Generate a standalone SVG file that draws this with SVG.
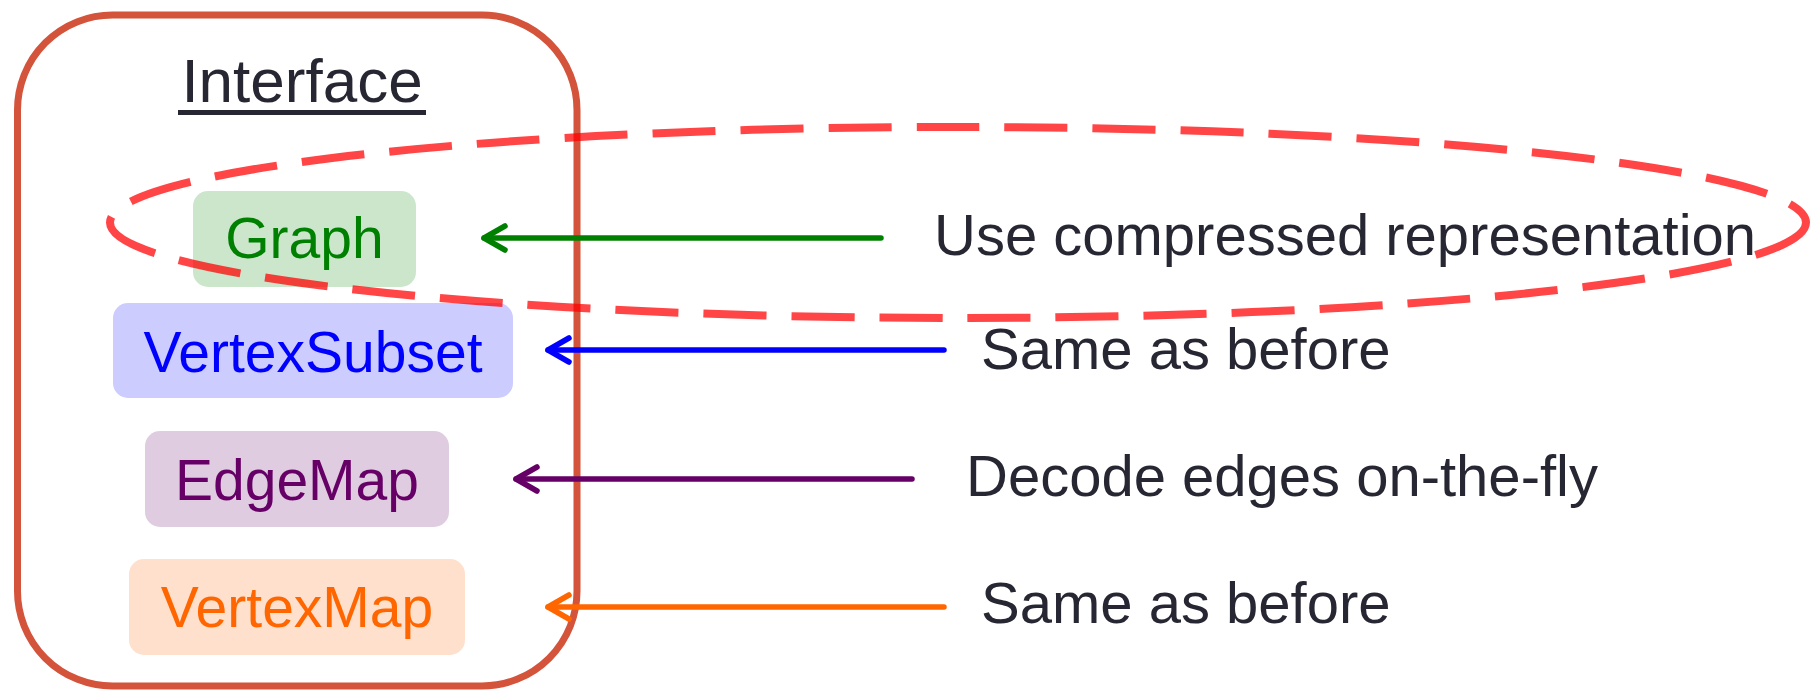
<svg xmlns="http://www.w3.org/2000/svg" width="1810" height="691" viewBox="0 0 1810 691">
<style>
text{font-family:"Liberation Sans",Arial,Helvetica,sans-serif;}
.lbl{font-size:57px;text-anchor:middle;}
.note{font-size:58px;fill:#272733;}
.conn{stroke-width:5.5;fill:none;stroke-linecap:round;}
</style>
<defs>
<marker id="ag" viewBox="-26 -16 30 32" refX="0" refY="0" markerWidth="30" markerHeight="32" markerUnits="userSpaceOnUse" orient="auto" overflow="visible"><path d="M-21,-12 L0,0 L-21,12" fill="none" stroke="#008000" stroke-width="5.5" stroke-linecap="round" stroke-linejoin="round"/></marker>
<marker id="ab" viewBox="-26 -16 30 32" refX="0" refY="0" markerWidth="30" markerHeight="32" markerUnits="userSpaceOnUse" orient="auto" overflow="visible"><path d="M-21,-12 L0,0 L-21,12" fill="none" stroke="#0000ff" stroke-width="5.5" stroke-linecap="round" stroke-linejoin="round"/></marker>
<marker id="ap" viewBox="-26 -16 30 32" refX="0" refY="0" markerWidth="30" markerHeight="32" markerUnits="userSpaceOnUse" orient="auto" overflow="visible"><path d="M-21,-12 L0,0 L-21,12" fill="none" stroke="#660066" stroke-width="5.5" stroke-linecap="round" stroke-linejoin="round"/></marker>
<marker id="ao" viewBox="-26 -16 30 32" refX="0" refY="0" markerWidth="30" markerHeight="32" markerUnits="userSpaceOnUse" orient="auto" overflow="visible"><path d="M-21,-12 L0,0 L-21,12" fill="none" stroke="#ff6600" stroke-width="5.5" stroke-linecap="round" stroke-linejoin="round"/></marker>
</defs>
<rect width="1810" height="691" fill="#ffffff"/>
<g id="interface">
<rect x="17.5" y="15" width="559.5" height="671" rx="95" ry="95" fill="none" stroke="#d4533b" stroke-width="7"/>
<text x="302" y="102" font-size="62" text-anchor="middle" fill="#272733">Interface</text>
<rect x="178" y="110" width="248" height="5" fill="#272733"/>
</g>
<g id="graph">
<rect x="193" y="191" width="223" height="96" rx="15" fill="#cce6cc"/>
<text class="lbl" x="304.5" y="258" fill="#008000">Graph</text>
</g>
<g id="vertexsubset">
<rect x="113" y="303" width="400" height="95" rx="15" fill="#ccccff"/>
<text class="lbl" x="313" y="372" fill="#0000ff">VertexSubset</text>
</g>
<g id="edgemap">
<rect x="145" y="431" width="304" height="96" rx="15" fill="#e0cce0"/>
<text class="lbl" x="297" y="500" fill="#660066">EdgeMap</text>
</g>
<g id="vertexmap">
<rect x="129" y="559" width="336" height="96" rx="15" fill="#ffe0cc"/>
<text class="lbl" x="297" y="627" fill="#ff6600">VertexMap</text>
</g>
<g id="note-graph"><text class="note" x="934" y="255">Use compressed representation</text></g>
<g id="note-vertexsubset"><text class="note" x="981" y="369">Same as before</text></g>
<g id="note-edgemap"><text class="note" x="966" y="496">Decode edges on-the-fly</text></g>
<g id="note-vertexmap"><text class="note" x="981" y="623">Same as before</text></g>
<g id="connectors">
<line class="conn" x1="881" y1="238" x2="484" y2="238" stroke="#008000" marker-end="url(#ag)"/>
<line class="conn" x1="944" y1="350" x2="548" y2="350" stroke="#0000ff" marker-end="url(#ab)"/>
<line class="conn" x1="912" y1="479" x2="516" y2="479" stroke="#660066" marker-end="url(#ap)"/>
<line class="conn" x1="944" y1="607" x2="548" y2="607" stroke="#ff6600" marker-end="url(#ao)"/>
</g>
<g id="highlight">
<ellipse cx="958" cy="222.5" rx="848" ry="95.5" fill="none" stroke="#ff0000" stroke-opacity="0.73" stroke-width="8" stroke-dasharray="63 25"/>
</g>
</svg>
